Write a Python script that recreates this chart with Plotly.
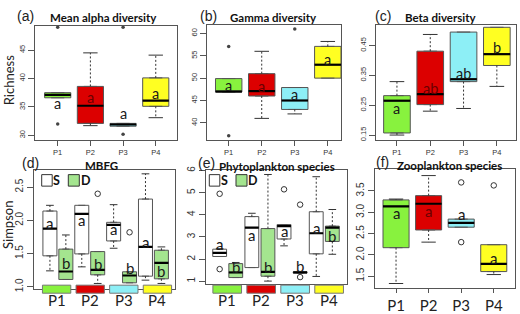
import plotly.graph_objects as go

W, H = 520, 314

# ---------------- data ----------------
groups = ["P1", "P2", "P3", "P4"]
group_pos = [1, 2, 3, 4]

# (a) Mean alpha diversity (Richness)
alpha_lower = [36.6, 31.7, 31.6, 33.1]
alpha_q1 = [36.6, 32.1, 31.6, 35.1]
alpha_median = [37.1, 35.2, 31.9, 36.1]
alpha_q3 = [37.5, 38.6, 32.1, 40.1]
alpha_upper = [37.5, 44.5, 32.1, 44.1]
alpha_out_group = [1, 1, 3, 3]
alpha_out_value = [49.0, 32.0, 49.0, 30.2]
alpha_letters = ["a", "a", "a", "a"]
alpha_letter_y = [35.6, 36.6, 33.8, 37.3]

# (b) Gamma diversity
gamma_lower = [46.9, 41.0, 42.0, 50.0]
gamma_q1 = [46.9, 46.0, 43.0, 50.0]
gamma_median = [47.0, 47.1, 45.0, 53.0]
gamma_q3 = [49.9, 51.0, 47.9, 57.1]
gamma_upper = [49.9, 56.0, 47.9, 58.2]
gamma_out_group = [1, 1, 3]
gamma_out_value = [57.1, 37.1, 61.0]
gamma_letters = ["a", "a", "a", "a"]
gamma_letter_y = [48.4, 48.2, 46.4, 54.2]

# (c) Beta diversity
beta_lower = [0.150, 0.230, 0.239, 0.313]
beta_q1 = [0.157, 0.252, 0.329, 0.383]
beta_median = [0.265, 0.287, 0.337, 0.421]
beta_q3 = [0.282, 0.431, 0.495, 0.511]
beta_upper = [0.329, 0.487, 0.495, 0.511]
beta_letters = ["a", "ab", "ab", "b"]
beta_letter_y = [0.239, 0.307, 0.357, 0.442]

# (d) MBFG (Simpson), S and D
mbfg_S_lower = [1.24, 1.30, 1.58, 1.10]
mbfg_S_q1 = [1.466, 1.495, 1.69, 1.16]
mbfg_S_median = [1.875, 2.096, 1.933, 1.60]
mbfg_S_q3 = [2.14, 2.226, 1.97, 2.32]
mbfg_S_upper = [2.226, 2.226, 2.236, 2.70]
mbfg_D_lower = [1.11, 1.05, 1.06, 1.05]
mbfg_D_q1 = [1.11, 1.18, 1.06, 1.12]
mbfg_D_median = [1.23, 1.255, 1.17, 1.36]
mbfg_D_q3 = [1.567, 1.53, 1.226, 1.55]
mbfg_D_upper = [1.78, 1.53, 1.226, 1.60]
mbfg_D_out_group = [2, 3]
mbfg_D_out_value = [2.40, 1.82]
mbfg_S_letters = ["a", "a", "a", "a"]
mbfg_S_letter_y = [1.96, 2.01, 1.865, 1.67]
mbfg_D_letters = ["b", "b", "b", "b"]
mbfg_D_letter_y = [1.36, 1.34, 1.29, 1.24]

# (e) Phytoplankton species, S and D
phyto_S_lower = [2.12, 1.62, 2.60, 1.22]
phyto_S_q1 = [2.12, 1.62, 2.91, 2.24]
phyto_S_median = [2.28, 3.42, 3.49, 3.17]
phyto_S_q3 = [2.45, 3.92, 3.56, 4.14]
phyto_S_upper = [2.47, 4.07, 3.56, 5.72]
phyto_S_out_group = [1, 1, 3]
phyto_S_out_value = [4.95, 1.55, 5.15]
phyto_D_lower = [1.17, 1.01, 1.37, 2.22]
phyto_D_q1 = [1.17, 1.23, 1.37, 2.80]
phyto_D_median = [1.40, 1.43, 1.40, 3.42]
phyto_D_q3 = [1.80, 3.38, 1.43, 3.49]
phyto_D_upper = [1.85, 5.82, 1.43, 4.24]
phyto_D_out_group = [3, 3]
phyto_D_out_value = [4.46, 1.19]
phyto_S_letters = ["a", "a", "a", "a"]
phyto_S_letter_y = [2.67, 3.09, 3.25, 3.42]
phyto_D_letters = ["b", "b", "b", "b"]
phyto_D_letter_y = [1.66, 1.66, 1.68, 3.05]

# (f) Zooplankton species
zoo_lower = [1.33, 2.30, 2.65, 1.54]
zoo_q1 = [2.17, 2.585, 2.65, 1.61]
zoo_median = [3.14, 3.20, 2.75, 1.79]
zoo_q3 = [3.29, 3.39, 2.84, 2.24]
zoo_upper = [3.31, 3.86, 2.84, 2.24]
zoo_out_group = [3, 3, 4]
zoo_out_value = [3.70, 2.30, 3.63]
zoo_letters = ["a", "a", "a", "a"]
zoo_letter_y = [2.98, 3.04, 2.96, 1.93]

# ---------------- style ----------------
group_fill = ["#88F23E", "#DC0000", "#8DEFF6", "#FFFF22"]
letter_color = ["#1a1a1a", "#6a0000", "#1a1a1a", "#1a1a1a"]
S_FILL = "#FFFFFF"
D_FILL = "#A4E58F"
BOX_LINE = "#555555"
FRAME = "#555555"
TXT = "#222222"
LETTER_FONT = "Lato"
TITLE_FONT = "Lato"
TICK_FONT = "Liberation Sans"

fig = go.Figure()


def add_boxes(ax, pos, lower, q1, med, q3, upper, fills, width, cap_frac=0.55):
    xa, ya = "x" + ax, "y" + ax
    for p, a, m, b, fc in zip(pos, q1, med, q3, fills):
        fig.add_trace(go.Box(
            x=[p], q1=[a], median=[m], q3=[b], lowerfence=[a], upperfence=[b],
            width=width, fillcolor=fc, line=dict(color=BOX_LINE, width=1),
            xaxis=xa, yaxis=ya, showlegend=False, hoverinfo="skip",
            boxpoints=False,
        ))
    wx, wy, cx, cy, mx, my = [], [], [], [], [], []
    for p, lo, a, m, b, hi in zip(pos, lower, q1, med, q3, upper):
        c = width * cap_frac / 2
        if hi > b:
            wx += [p, p, None]
            wy += [b, hi, None]
            cx += [p - c, p + c, None]
            cy += [hi, hi, None]
        if lo < a:
            wx += [p, p, None]
            wy += [a, lo, None]
            cx += [p - c, p + c, None]
            cy += [lo, lo, None]
        h = width / 2
        mx += [p - h, p + h, None]
        my += [m, m, None]
    fig.add_trace(go.Scatter(x=wx, y=wy, mode="lines", xaxis=xa, yaxis=ya,
                             line=dict(color="#333", width=1, dash="2px,2px"),
                             showlegend=False, hoverinfo="skip"))
    fig.add_trace(go.Scatter(x=cx, y=cy, mode="lines", xaxis=xa, yaxis=ya,
                             line=dict(color="#333", width=1),
                             showlegend=False, hoverinfo="skip"))
    fig.add_trace(go.Scatter(x=mx, y=my, mode="lines", xaxis=xa, yaxis=ya,
                             line=dict(color="#000", width=2.2),
                             showlegend=False, hoverinfo="skip"))


def add_outliers(ax, xs, ys, open_marker):
    if open_marker:
        marker = dict(symbol="circle-open", size=5.5, color="#333", line=dict(width=1, color="#333"))
    else:
        marker = dict(symbol="circle", size=3.5, color="#444")
    fig.add_trace(go.Scatter(x=xs, y=ys, mode="markers", marker=marker,
                             xaxis="x" + ax, yaxis="y" + ax,
                             showlegend=False, hoverinfo="skip"))


annotations = []
shapes = []


def add_letters(ax, xs, ys, texts, colors, size):
    for x, y, t, c in zip(xs, ys, texts, colors):
        annotations.append(dict(x=x, y=y, xref="x" + ax, yref="y" + ax, text=t,
                                showarrow=False, font=dict(family=LETTER_FONT, size=size, color=c),
                                xanchor="center", yanchor="middle"))


# ---- top row ----
add_boxes("", group_pos, alpha_lower, alpha_q1, alpha_median, alpha_q3, alpha_upper, group_fill, 0.8)
add_outliers("", alpha_out_group, alpha_out_value, False)
add_letters("", group_pos, alpha_letter_y, alpha_letters, letter_color, 14.5)

add_boxes("2", group_pos, gamma_lower, gamma_q1, gamma_median, gamma_q3, gamma_upper, group_fill, 0.8)
add_outliers("2", gamma_out_group, gamma_out_value, False)
add_letters("2", group_pos, gamma_letter_y, gamma_letters, letter_color, 14.5)

add_boxes("3", group_pos, beta_lower, beta_q1, beta_median, beta_q3, beta_upper, group_fill, 0.8)
add_letters("3", group_pos, beta_letter_y, beta_letters, letter_color, 14.5)

# ---- bottom row ----
OFF = 0.25
s_pos = [g - OFF for g in group_pos]
d_pos = [g + OFF for g in group_pos]
dark = ["#1a1a1a"] * 4

add_boxes("4", s_pos, mbfg_S_lower, mbfg_S_q1, mbfg_S_median, mbfg_S_q3, mbfg_S_upper, [S_FILL] * 4, 0.44)
add_boxes("4", d_pos, mbfg_D_lower, mbfg_D_q1, mbfg_D_median, mbfg_D_q3, mbfg_D_upper, [D_FILL] * 4, 0.44)
add_outliers("4", [g + OFF for g in mbfg_D_out_group], mbfg_D_out_value, True)
add_letters("4", s_pos, mbfg_S_letter_y, mbfg_S_letters, dark, 15)
add_letters("4", d_pos, mbfg_D_letter_y, mbfg_D_letters, dark, 15)

add_boxes("5", s_pos, phyto_S_lower, phyto_S_q1, phyto_S_median, phyto_S_q3, phyto_S_upper, [S_FILL] * 4, 0.43)
add_boxes("5", d_pos, phyto_D_lower, phyto_D_q1, phyto_D_median, phyto_D_q3, phyto_D_upper, [D_FILL] * 4, 0.43)
add_outliers("5", [g - OFF for g in phyto_S_out_group], phyto_S_out_value, True)
add_outliers("5", [g + OFF for g in phyto_D_out_group], phyto_D_out_value, True)
add_letters("5", s_pos, phyto_S_letter_y, phyto_S_letters, dark, 15)
add_letters("5", d_pos, phyto_D_letter_y, phyto_D_letters, dark, 15)

add_boxes("6", group_pos, zoo_lower, zoo_q1, zoo_median, zoo_q3, zoo_upper, group_fill, 0.8)
add_outliers("6", zoo_out_group, zoo_out_value, True)
add_letters("6", group_pos, zoo_letter_y, zoo_letters, letter_color, 15)

# ---------------- layout ----------------
def dom_x(x0, x1):
    return [x0 / W, x1 / W]


def dom_y(y0, y1):
    return [1 - y1 / H, 1 - y0 / H]


def px(x):
    return x / W


def py(y):
    return 1 - y / H


base_axis = dict(showgrid=False, zeroline=False, showline=True, mirror=True,
                 linecolor=FRAME, linewidth=1, ticks="outside", tickcolor=FRAME,
                 type="linear", fixedrange=True)

panels = [
    ("", (35, 177, 22.5, 141.5), [0.305, 4.65], [29.24, 49.3], [30, 35, 40, 45], ["30", "35", "40", "45"], 7.5, "small"),
    ("2", (207, 341, 22, 142), [0.343, 4.40], [36.14, 61.86], [40, 45, 50, 55, 60], ["40", "45", "50", "55", "60"], 7.5, "small"),
    ("3", (376, 516, 22, 142), [0.371, 4.575], [0.133, 0.5184], [0.15, 0.25, 0.35, 0.45], ["0.15", "0.25", "0.35", "0.45"], 7.5, "small"),
    ("4", (34, 175, 173, 297.5), [0.25, 4.677], [0.964, 2.76], [1.0, 1.5, 2.0, 2.5], ["1.0", "1.5", "2.0", "2.5"], 10, "none"),
    ("5", (206, 346.5, 173, 292), [0.326, 4.69], [0.883, 6.03], [1, 2, 3, 4, 5, 6], ["1", "2", "3", "4", "5", "6"], 10, "none"),
    ("6", (375, 515, 172.5, 296.7), [0.354, 4.652], [1.215, 4.006], [1.5, 2.0, 2.5, 3.0, 3.5], ["1.5", "2.0", "2.5", "3.0", "3.5"], 10, "big"),
]

layout = dict(width=W, height=H, autosize=False, margin=dict(l=0, r=0, t=0, b=0, pad=0),
              paper_bgcolor="white", plot_bgcolor="white", showlegend=False, boxmode="overlay")

for name, (x0, x1, y0, y1), xr, yr, yt, ytt, ysz, xstyle in panels:
    xa = dict(base_axis, domain=dom_x(x0, x1), range=xr, anchor="y" + name,
              tickvals=group_pos, ticktext=groups)
    if xstyle == "small":
        xa.update(ticklen=5, tickfont=dict(family=TICK_FONT, size=7.5, color="#333"), showticklabels=True)
    elif xstyle == "big":
        xa.update(ticklen=4, tickfont=dict(family=LETTER_FONT, size=15, color=TXT), showticklabels=True)
    else:
        xa.update(ticks="", showticklabels=False)
    ya = dict(base_axis, domain=dom_y(y0, y1), range=yr, anchor="x" + name,
              tickvals=yt, ticktext=ytt, tickangle=-90, ticklen=6,
              tickfont=dict(family=TICK_FONT, size=ysz, color="#333"))
    layout["xaxis" + name] = xa
    layout["yaxis" + name] = ya

# strips under (d) and (e)
STRIP_PITCH = 1.055
STRIP_HALF = 0.445
for ax, shift in (("4", -0.04), ("5", -0.015)):
    for i, g in enumerate(group_pos):
        c = 1 + (g - 1) * STRIP_PITCH + shift
        shapes.append(dict(type="rect", xref="x" + ax, yref="paper",
                           x0=c - STRIP_HALF, x1=c + STRIP_HALF, y0=py(301.7), y1=py(293.3),
                           fillcolor=group_fill[i], line=dict(color="#777", width=1), layer="above"))
        annotations.append(dict(x=c, y=py(308.5), xref="x" + ax, yref="paper", text=groups[i],
                                showarrow=False, font=dict(family=LETTER_FONT, size=15, color=TXT),
                                xanchor="center", yanchor="middle"))

# legend keys S / D in (d) and (e)
for sx, dx, stx, dtx in ((41.7, 68.3, 56.5, 85.5), (209.3, 236.0, 224.0, 253.0)):
    shapes.append(dict(type="rect", xref="paper", yref="paper", x0=px(sx), x1=px(sx + 10.5),
                       y0=py(190), y1=py(178), fillcolor=S_FILL, line=dict(color="#333", width=1)))
    shapes.append(dict(type="rect", xref="paper", yref="paper", x0=px(dx), x1=px(dx + 11),
                       y0=py(190), y1=py(178), fillcolor=D_FILL, line=dict(color="#333", width=1)))
    annotations.append(dict(x=px(stx), y=py(184.5), xref="paper", yref="paper", text="<b>S</b>",
                            showarrow=False, font=dict(family=LETTER_FONT, size=12.5, color="#111"),
                            xanchor="center", yanchor="middle"))
    annotations.append(dict(x=px(dtx), y=py(184.5), xref="paper", yref="paper", text="<b>D</b>",
                            showarrow=False, font=dict(family=LETTER_FONT, size=12.5, color="#111"),
                            xanchor="center", yanchor="middle"))

# panel tags and titles
tags = [("(a)", 25, 12), ("(b)", 208.5, 12), ("(c)", 383, 12),
        ("(d)", 30, 166), ("(e)", 206, 166), ("(f)", 382, 165)]
for t, x, y in tags:
    annotations.append(dict(x=px(x), y=py(y), xref="paper", yref="paper", text=t, showarrow=False,
                            font=dict(family=TICK_FONT, size=14, color=TXT),
                            xanchor="center", yanchor="middle"))

titles = [("Mean alpha diversity", 103, 14), ("Gamma diversity", 273.5, 14), ("Beta diversity", 440, 14),
          ("MBFG", 101, 168.5), ("Phytoplankton species", 277, 169.5), ("Zooplankton species", 449.5, 168)]
for t, x, y in titles:
    annotations.append(dict(x=px(x), y=py(y), xref="paper", yref="paper", text="<b>" + t + "</b>",
                            showarrow=False, font=dict(family=TITLE_FONT, size=11.5, color="#111"),
                            xanchor="center", yanchor="middle"))

for t, y in (("Richness", 80), ("Simpson", 231)):
    annotations.append(dict(x=px(8.5), y=py(y), xref="paper", yref="paper", text=t, showarrow=False,
                            textangle=-90, font=dict(family=LETTER_FONT, size=13, color=TXT),
                            xanchor="center", yanchor="middle"))

layout["annotations"] = annotations
layout["shapes"] = shapes
fig.update_layout(**layout)

fig.write_html("out.html", config={"displayModeBar": False, "staticPlot": True},
               post_script="document.body.style.margin='0';document.body.style.overflow='hidden';")
